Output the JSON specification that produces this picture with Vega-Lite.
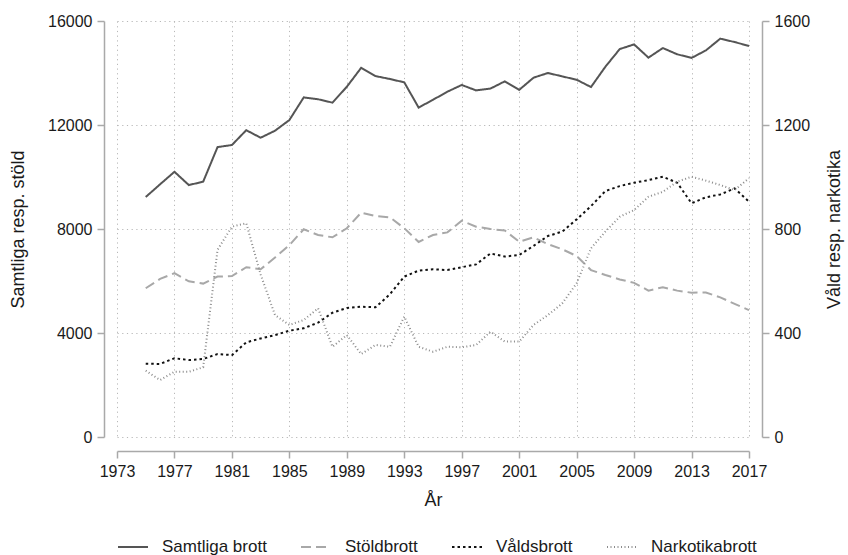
{
  "$schema": "https://vega.github.io/schema/vega-lite/v6.json",
  "width": 632,
  "height": 416,
  "autosize": {"type": "none"},
  "padding": {"left": 117, "top": 21, "right": 99, "bottom": 118},
  "background": "white",
  "config": {
    "font": "Liberation Sans",
    "view": {"stroke": null},
    "axis": {
      "domainColor": "#a9a9a9",
      "domainWidth": 1.5,
      "tickColor": "#a9a9a9",
      "tickWidth": 1.5,
      "tickSize": 7,
      "labelFontSize": 16,
      "labelColor": "#1a1a1a",
      "labelPadding": 5,
      "labelFlush": false,
      "titleFontSize": 18,
      "titleFontWeight": "normal",
      "titleColor": "#1a1a1a",
      "gridColor": "#b8b8b8",
      "gridDash": [1.2, 3.5],
      "gridWidth": 1
    },
    "legend": {
      "labelFontSize": 17,
      "labelColor": "#1a1a1a",
      "symbolType": "stroke",
      "symbolSize": 900,
      "columnPadding": 30,
      "labelOffset": 13
    }
  },
  "data": {
    "values": [
      {"year": 1975, "Samtliga brott": 9230, "Stöldbrott": 5720, "Våldsbrott": 282, "Narkotikabrott": 255},
      {"year": 1976, "Samtliga brott": 9720, "Stöldbrott": 6080, "Våldsbrott": 281, "Narkotikabrott": 219},
      {"year": 1977, "Samtliga brott": 10200, "Stöldbrott": 6300, "Våldsbrott": 303, "Narkotikabrott": 251},
      {"year": 1978, "Samtliga brott": 9690, "Stöldbrott": 5990, "Våldsbrott": 296, "Narkotikabrott": 251},
      {"year": 1979, "Samtliga brott": 9820, "Stöldbrott": 5900, "Våldsbrott": 300, "Narkotikabrott": 268},
      {"year": 1980, "Samtliga brott": 11150, "Stöldbrott": 6170, "Våldsbrott": 319, "Narkotikabrott": 720},
      {"year": 1981, "Samtliga brott": 11230, "Stöldbrott": 6190, "Våldsbrott": 315, "Narkotikabrott": 809},
      {"year": 1982, "Samtliga brott": 11800, "Stöldbrott": 6530, "Våldsbrott": 364, "Narkotikabrott": 822},
      {"year": 1983, "Samtliga brott": 11510, "Stöldbrott": 6450, "Våldsbrott": 379, "Narkotikabrott": 625},
      {"year": 1984, "Samtliga brott": 11780, "Stöldbrott": 6900, "Våldsbrott": 392, "Narkotikabrott": 469},
      {"year": 1985, "Samtliga brott": 12190, "Stöldbrott": 7380, "Våldsbrott": 409, "Narkotikabrott": 431},
      {"year": 1986, "Samtliga brott": 13060, "Stöldbrott": 7990, "Våldsbrott": 418, "Narkotikabrott": 450},
      {"year": 1987, "Samtliga brott": 12990, "Stöldbrott": 7770, "Våldsbrott": 440, "Narkotikabrott": 495},
      {"year": 1988, "Samtliga brott": 12860, "Stöldbrott": 7680, "Våldsbrott": 478, "Narkotikabrott": 347},
      {"year": 1989, "Samtliga brott": 13470, "Stöldbrott": 8030, "Våldsbrott": 496, "Narkotikabrott": 392},
      {"year": 1990, "Samtliga brott": 14200, "Stöldbrott": 8630, "Våldsbrott": 501, "Narkotikabrott": 319},
      {"year": 1991, "Samtliga brott": 13880, "Stöldbrott": 8500, "Våldsbrott": 499, "Narkotikabrott": 354},
      {"year": 1992, "Samtliga brott": 13770, "Stöldbrott": 8450, "Våldsbrott": 549, "Narkotikabrott": 347},
      {"year": 1993, "Samtliga brott": 13640, "Stöldbrott": 8030, "Våldsbrott": 617, "Narkotikabrott": 463},
      {"year": 1994, "Samtliga brott": 12670, "Stöldbrott": 7500, "Våldsbrott": 640, "Narkotikabrott": 347},
      {"year": 1995, "Samtliga brott": 12970, "Stöldbrott": 7770, "Våldsbrott": 645, "Narkotikabrott": 328},
      {"year": 1996, "Samtliga brott": 13280, "Stöldbrott": 7870, "Våldsbrott": 642, "Narkotikabrott": 347},
      {"year": 1997, "Samtliga brott": 13540, "Stöldbrott": 8320, "Våldsbrott": 653, "Narkotikabrott": 345},
      {"year": 1998, "Samtliga brott": 13330, "Stöldbrott": 8090, "Våldsbrott": 664, "Narkotikabrott": 354},
      {"year": 1999, "Samtliga brott": 13400, "Stöldbrott": 8000, "Våldsbrott": 706, "Narkotikabrott": 405},
      {"year": 2000, "Samtliga brott": 13680, "Stöldbrott": 7940, "Våldsbrott": 694, "Narkotikabrott": 367},
      {"year": 2001, "Samtliga brott": 13350, "Stöldbrott": 7510, "Våldsbrott": 700, "Narkotikabrott": 367},
      {"year": 2002, "Samtliga brott": 13820, "Stöldbrott": 7680, "Våldsbrott": 735, "Narkotikabrott": 431},
      {"year": 2003, "Samtliga brott": 14000, "Stöldbrott": 7420, "Våldsbrott": 773, "Narkotikabrott": 469},
      {"year": 2004, "Samtliga brott": 13870, "Stöldbrott": 7220, "Våldsbrott": 790, "Narkotikabrott": 514},
      {"year": 2005, "Samtliga brott": 13740, "Stöldbrott": 6960, "Våldsbrott": 837, "Narkotikabrott": 591},
      {"year": 2006, "Samtliga brott": 13460, "Stöldbrott": 6420, "Våldsbrott": 888, "Narkotikabrott": 726},
      {"year": 2007, "Samtliga brott": 14240, "Stöldbrott": 6230, "Våldsbrott": 946, "Narkotikabrott": 790},
      {"year": 2008, "Samtliga brott": 14920, "Stöldbrott": 6060, "Våldsbrott": 965, "Narkotikabrott": 847},
      {"year": 2009, "Samtliga brott": 15100, "Stöldbrott": 5930, "Våldsbrott": 978, "Narkotikabrott": 873},
      {"year": 2010, "Samtliga brott": 14590, "Stöldbrott": 5630, "Våldsbrott": 988, "Narkotikabrott": 924},
      {"year": 2011, "Samtliga brott": 14960, "Stöldbrott": 5760, "Våldsbrott": 1001, "Narkotikabrott": 943},
      {"year": 2012, "Samtliga brott": 14720, "Stöldbrott": 5630, "Våldsbrott": 978, "Narkotikabrott": 982},
      {"year": 2013, "Samtliga brott": 14580, "Stöldbrott": 5550, "Våldsbrott": 899, "Narkotikabrott": 1001},
      {"year": 2014, "Samtliga brott": 14870, "Stöldbrott": 5560, "Våldsbrott": 922, "Narkotikabrott": 986},
      {"year": 2015, "Samtliga brott": 15320, "Stöldbrott": 5370, "Våldsbrott": 933, "Narkotikabrott": 969},
      {"year": 2016, "Samtliga brott": 15190, "Stöldbrott": 5120, "Våldsbrott": 956, "Narkotikabrott": 950},
      {"year": 2017, "Samtliga brott": 15040, "Stöldbrott": 4880, "Våldsbrott": 905, "Narkotikabrott": 995}
    ]
  },
  "transform": [
    {"fold": ["Samtliga brott", "Stöldbrott", "Våldsbrott", "Narkotikabrott"], "as": ["serie", "value"]}
  ],
  "encoding": {
    "x": {
      "field": "year",
      "type": "quantitative",
      "title": "År",
      "scale": {"domain": [1973, 2017], "nice": false, "zero": false},
      "axis": {
        "values": [1973, 1977, 1981, 1985, 1989, 1993, 1997, 2001, 2005, 2009, 2013, 2017],
        "format": "d",
        "offset": 14,
        "grid": true,
        "titlePadding": 12
      }
    },
    "color": {
      "field": "serie",
      "type": "nominal",
      "title": null,
      "scale": {
        "domain": ["Samtliga brott", "Stöldbrott", "Våldsbrott", "Narkotikabrott"],
        "range": ["#555555", "#a8a8a8", "#111111", "#8c8c8c"]
      },
      "legend": {"orient": "bottom", "direction": "horizontal", "offset": 22}
    },
    "strokeDash": {
      "field": "serie",
      "type": "nominal",
      "title": null,
      "scale": {
        "domain": ["Samtliga brott", "Stöldbrott", "Våldsbrott", "Narkotikabrott"],
        "range": [[1, 0], [10, 5], [2.5, 3], [1, 2.5]]
      },
      "legend": {"orient": "bottom", "direction": "horizontal", "offset": 22}
    },
    "strokeWidth": {
      "field": "serie",
      "type": "nominal",
      "title": null,
      "scale": {
        "domain": ["Samtliga brott", "Stöldbrott", "Våldsbrott", "Narkotikabrott"],
        "range": [2, 2, 2.5, 1.3]
      },
      "legend": {"orient": "bottom", "direction": "horizontal", "offset": 22}
    }
  },
  "layer": [
    {
      "transform": [{"filter": {"field": "serie", "oneOf": ["Samtliga brott", "Stöldbrott"]}}],
      "mark": {"type": "line"},
      "encoding": {
        "y": {
          "field": "value",
          "type": "quantitative",
          "title": "Samtliga resp. stöld",
          "scale": {"domain": [0, 16000], "nice": false},
          "axis": {
            "values": [0, 4000, 8000, 12000, 16000],
            "format": "d",
            "offset": 13,
            "grid": true,
            "titlePadding": 20
          }
        }
      }
    },
    {
      "transform": [{"filter": {"field": "serie", "oneOf": ["Våldsbrott", "Narkotikabrott"]}}],
      "mark": {"type": "line"},
      "encoding": {
        "y": {
          "field": "value",
          "type": "quantitative",
          "title": "Våld resp. narkotika",
          "scale": {"domain": [0, 1600], "nice": false},
          "axis": {
            "orient": "right",
            "values": [0, 400, 800, 1200, 1600],
            "format": "d",
            "offset": 13,
            "grid": false,
            "titleAngle": 270,
            "titleBaseline": "bottom",
            "titlePadding": 34
          }
        }
      }
    }
  ],
  "resolve": {"scale": {"y": "independent"}}
}
